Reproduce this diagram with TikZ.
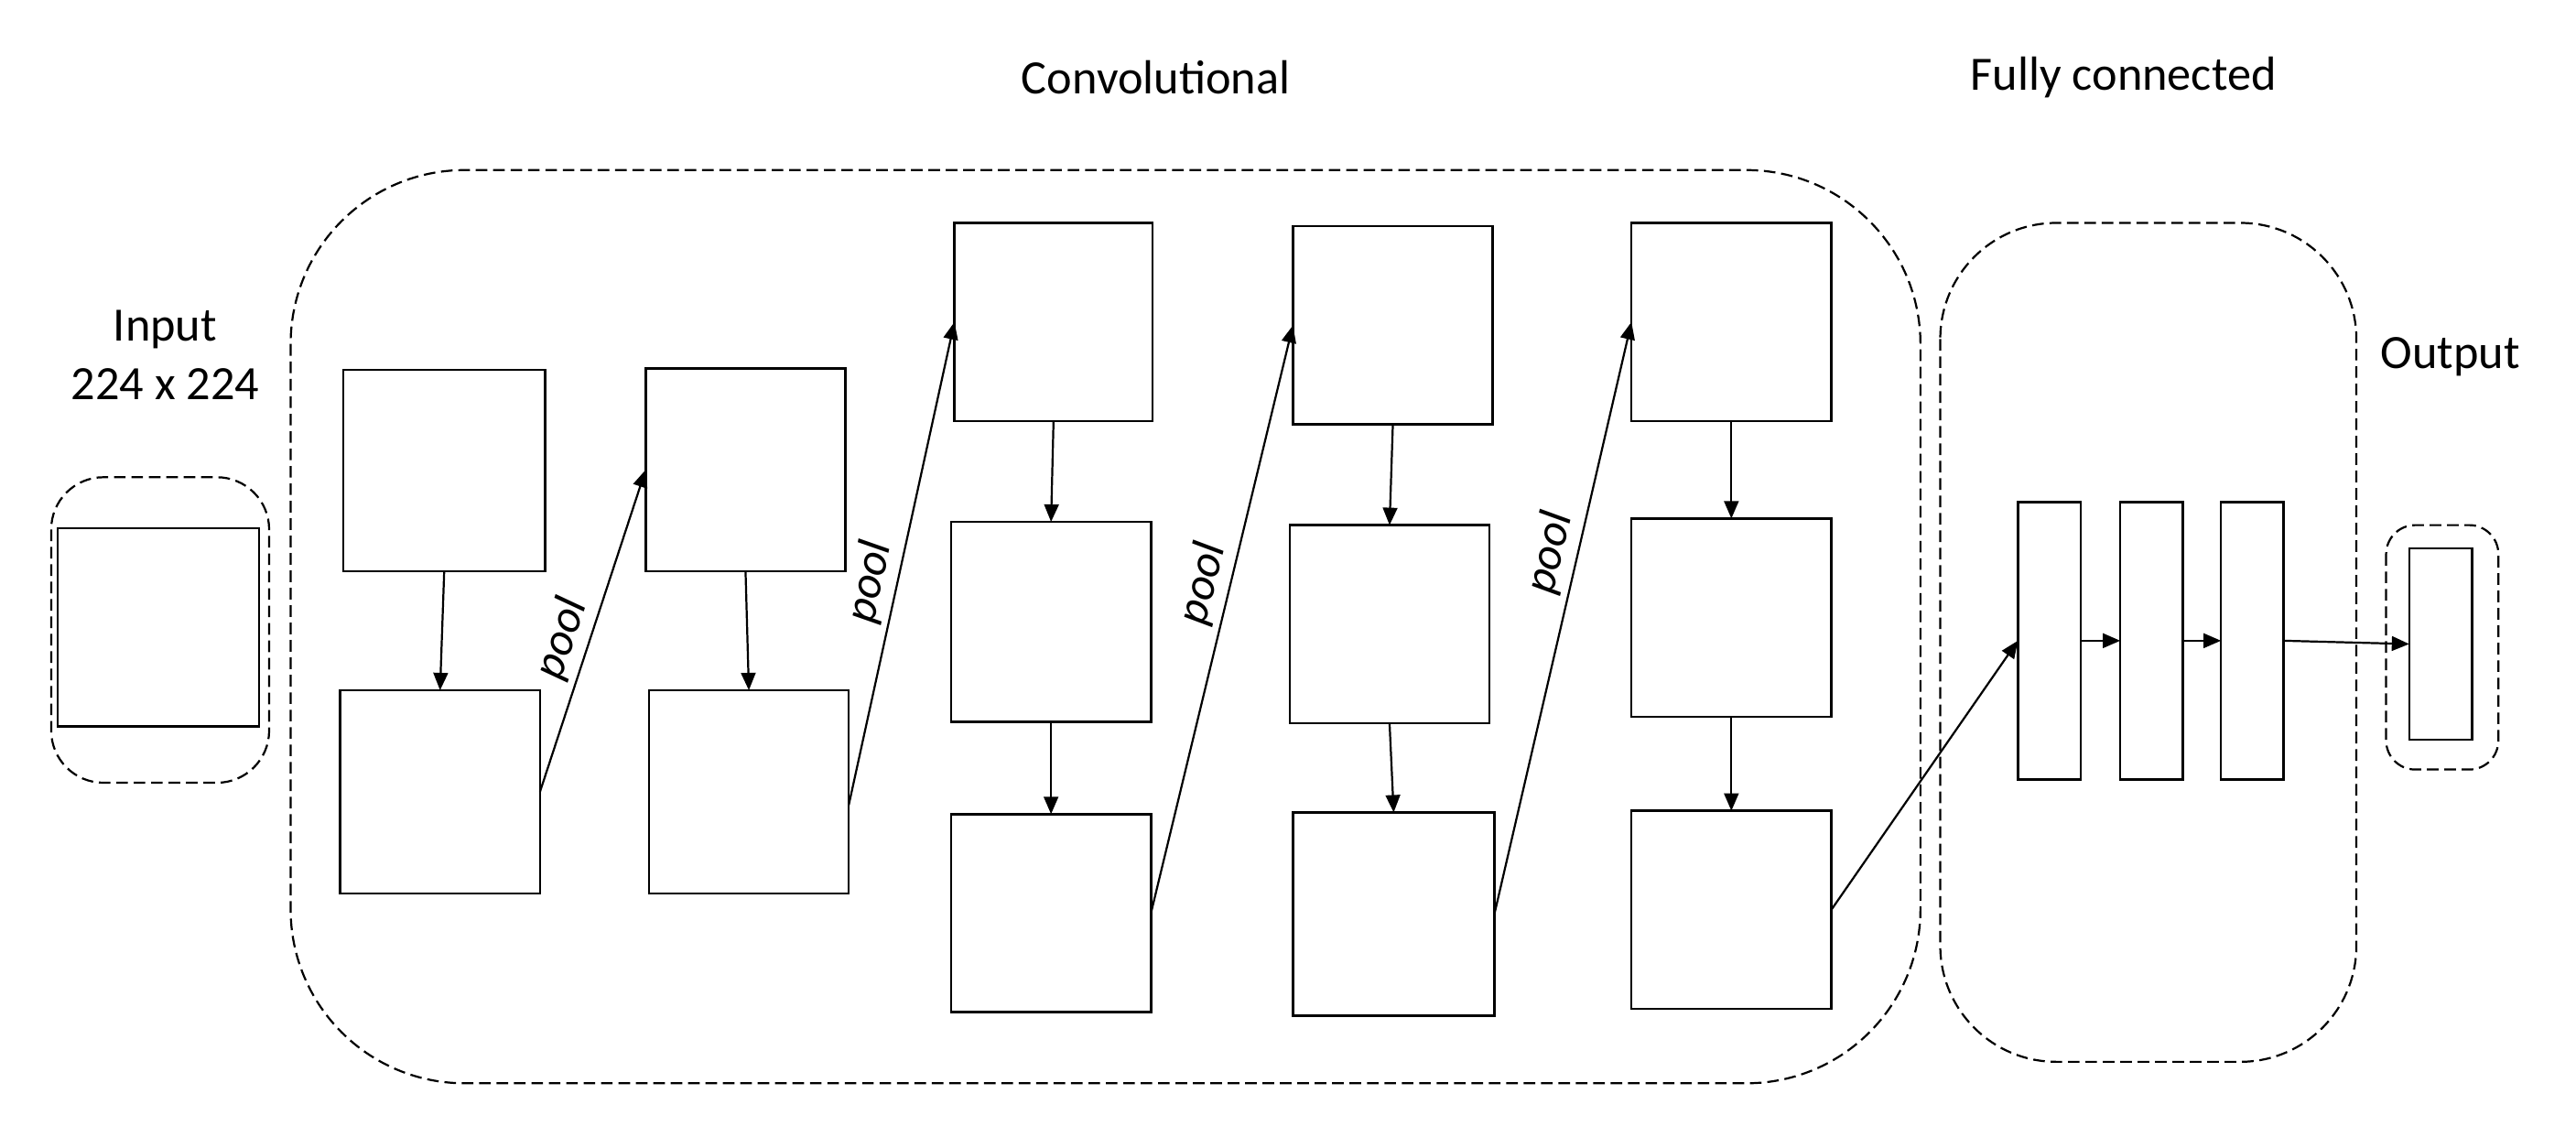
\documentclass[tikz,border=0pt]{standalone}
\usepackage{fontspec}
\setmainfont{Carlito}
\usetikzlibrary{arrows.meta}
\newcommand\bx[5]{\node[box,minimum width={(#4-#2)*0.02cm},minimum height={(#5-#3)*0.02cm}] (#1) at ({(#2+#4)/2},{-(#3+#5)/2}) {};}
\begin{document}
\begin{tikzpicture}[x=0.02cm,y=0.02cm,
  box/.style={draw,line width=0.8pt,inner sep=0,outer sep=0},
  frame/.style={draw,dashed,line width=0.7pt,dash pattern=on 4pt off 2pt},
  arr/.style={-{Triangle[length=6pt,width=5pt]},line width=0.7pt},
  lab/.style={font=\fontsize{16.5}{20}\selectfont,align=center},
  pl/.style={font=\fontsize{16}{18}\selectfont\itshape,sloped,above,inner sep=2pt}]
\useasboundingbox (0,0) rectangle (1560,-688);
% frames
\draw[frame,rounded corners=18] (31,-289) rectangle (163,-474);
\draw[frame,rounded corners=60] (176,-103) rectangle (1163,-656);
\draw[frame,rounded corners=40] (1175,-135) rectangle (1427,-643);
\draw[frame,rounded corners=10] (1445,-318) rectangle (1513,-466);
% boxes
\bx{in}{35}{320}{157}{440}
\bx{t1}{208}{224}{330}{346}
\bx{b1}{206}{418}{327}{541}
\bx{t2}{391}{223}{512}{346}
\bx{b2}{393}{418}{514}{541}
\bx{t3}{578}{135}{698}{255}
\bx{m3}{576}{316}{697}{437}
\bx{b3}{576}{493}{697}{613}
\bx{t4}{783}{137}{904}{257}
\bx{m4}{781}{318}{902}{438}
\bx{b4}{783}{492}{905}{615}
\bx{t5}{988}{135}{1109}{255}
\bx{m5}{988}{314}{1109}{434}
\bx{b5}{988}{491}{1109}{611}
\bx{f1}{1222}{304}{1260}{472}
\bx{f2}{1284}{304}{1322}{472}
\bx{f3}{1345}{304}{1383}{472}
\bx{o}{1459}{332}{1497}{448}
% labels
\node[lab] at (700,-47) {Convolutional};
\node[lab] at (1286,-47) {Fully connected};
\node[lab] at (100,-215) {Input\\224 x 224};
\node[lab] at (1484,-216) {Output};
% vertical arrows
\draw[arr] (t1.south) -- (b1.north);
\draw[arr] (t2.south) -- (b2.north);
\draw[arr] (t3.south) -- (m3.north);
\draw[arr] (m3.south) -- (b3.north);
\draw[arr] (t4.south) -- (m4.north);
\draw[arr] (m4.south) -- (b4.north);
\draw[arr] (t5.south) -- (m5.north);
\draw[arr] (m5.south) -- (b5.north);
% pool arrows
\draw[arr] (b1.east) -- node[pl,pos=0.45]{pool} (t2.west);
\draw[arr] ([yshift=-0.16cm]b2.east) -- node[pl,pos=0.45]{pool} (t3.west);
\draw[arr] (b3.east) -- node[pl,pos=0.55]{pool} (t4.west);
\draw[arr] (b4.east) -- node[pl,pos=0.6]{pool} (t5.west);
\draw[arr] (b5.east) -- (f1.west);
\draw[arr] (f1.east) -- (f2.west);
\draw[arr] (f2.east) -- (f3.west);
\draw[arr] (f3.east) -- (o.west);
\end{tikzpicture}
\end{document}
